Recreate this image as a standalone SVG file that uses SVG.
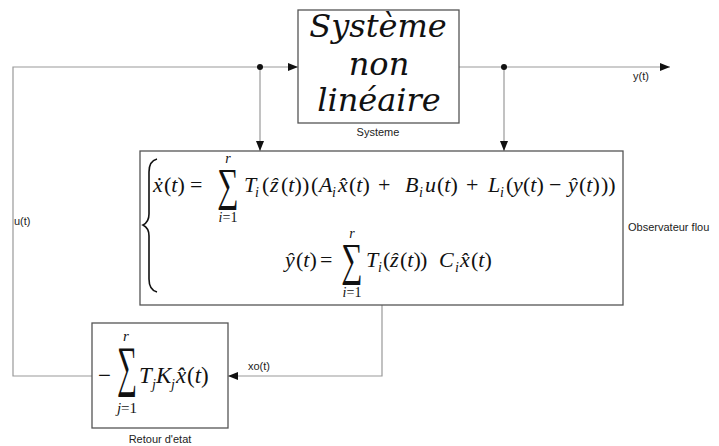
<svg xmlns="http://www.w3.org/2000/svg" width="719" height="446" viewBox="0 0 719 446">
<style>
.box{fill:#fff;stroke:#555;stroke-width:1.3}
.ln{fill:none;stroke:#999;stroke-width:1.2}
.lbl{font-family:"Liberation Sans",Arial,sans-serif;font-size:11px;fill:#222}
.m{font-family:"Liberation Serif","Times New Roman",serif;font-size:22px;fill:#111}
.f{font-size:23px}
.i{font-style:italic}
.s{font-size:14px}
.sys{font-family:"DejaVu Serif",serif;font-style:italic;font-size:32px;fill:#111;text-anchor:middle}
.sig{font-family:"Liberation Serif",serif;font-size:46px;fill:#111;text-anchor:middle}
.lim{font-family:"Liberation Serif",serif;font-size:14px;fill:#111;text-anchor:middle}
</style>
<defs>
<marker id="ar" markerUnits="userSpaceOnUse" markerWidth="10" markerHeight="8" refX="10" refY="4" orient="auto">
<path d="M0,0 L10,4 L0,8 z" fill="#111"/>
</marker>
</defs>
<g id="connectors">
<path class="ln" d="M92,376 H13 V67 H298" marker-end="url(#ar)"/>
<path class="ln" d="M260,67 V151" marker-end="url(#ar)"/>
<path class="ln" d="M459,67 H670" marker-end="url(#ar)"/>
<path class="ln" d="M504,67 V151" marker-end="url(#ar)"/>
<path class="ln" d="M382,305 V376 H228" marker-end="url(#ar)"/>
<circle cx="260" cy="67" r="3" fill="#111"/>
<circle cx="504" cy="67" r="3" fill="#111"/>
<text class="lbl" x="633" y="80">y(t)</text>
<text class="lbl" x="14" y="225">u(t)</text>
<text class="lbl" x="248" y="370">xo(t)</text>
</g>
<g id="systeme">
<rect class="box" x="298" y="10" width="161" height="113"/>
<text class="sys" x="378" y="37">Système</text>
<text class="sys" x="379" y="75">non</text>
<text class="sys" x="379" y="111">linéaire</text>
<text class="lbl" x="378" y="136" text-anchor="middle">Systeme</text>
</g>
<g id="observateur">
<rect class="box" x="140" y="151" width="483" height="154"/>
<path d="M157,159 Q149,161 149,172 L149,214 Q149,222 143,225 Q149,228 149,236 L149,279 Q149,290 157,292" fill="none" stroke="#111" stroke-width="1.6"/>
<text class="m" y="192"><tspan x="153" class="i">ẋ</tspan><tspan x="164">(</tspan><tspan class="i">t</tspan>)<tspan x="190">=</tspan><tspan x="244" class="i">T</tspan><tspan x="255" y="197" class="i s">i</tspan><tspan x="262" y="192">(</tspan><tspan x="270" class="i">ẑ</tspan><tspan x="281">(</tspan><tspan class="i">t</tspan>)<tspan x="302">)</tspan><tspan x="311">(</tspan><tspan x="319" class="i">A</tspan><tspan x="332" y="197" class="i s">i</tspan><tspan x="338" y="192" class="i">x̂</tspan><tspan x="349">(</tspan><tspan class="i">t</tspan>)<tspan x="378">+</tspan><tspan x="405" class="i">B</tspan><tspan x="419" y="197" class="i s">i</tspan><tspan x="425" y="192" class="i">u</tspan><tspan x="437">(</tspan><tspan class="i">t</tspan>)<tspan x="466">+</tspan><tspan x="488" class="i">L</tspan><tspan x="500" y="197" class="i s">i</tspan><tspan x="506" y="192">(</tspan><tspan x="513" class="i">y</tspan><tspan x="523">(</tspan><tspan class="i">t</tspan>)<tspan x="549">−</tspan><tspan x="568" class="i">ŷ</tspan><tspan x="579">(</tspan><tspan class="i">t</tspan>)<tspan x="601">))</tspan></text>
<text class="sig" transform="translate(228,200) scale(0.65,1)">∑</text>
<text class="lim i" x="228" y="163">r</text>
<text class="lim" x="228" y="222"><tspan class="i">i</tspan>=1</text>
<text class="m" y="267"><tspan x="285" class="i">ŷ</tspan><tspan x="296">(</tspan><tspan class="i">t</tspan>)<tspan x="320">=</tspan><tspan x="366" class="i">T</tspan><tspan x="378" y="272" class="i s">i</tspan><tspan x="383" y="267">(</tspan><tspan x="390" class="i">ẑ</tspan><tspan x="400">(</tspan><tspan class="i">t</tspan>)<tspan x="420">)</tspan><tspan x="439" class="i">C</tspan><tspan x="455" y="272" class="i s">i</tspan><tspan x="460" y="267" class="i">x̂</tspan><tspan x="471">(</tspan><tspan class="i">t</tspan>)</text>
<text class="sig" transform="translate(352,275) scale(0.65,1)">∑</text>
<text class="lim i" x="352" y="238">r</text>
<text class="lim" x="352" y="297"><tspan class="i">i</tspan>=1</text>
<text class="lbl" x="628" y="231">Observateur flou</text>
</g>
<g id="retour">
<rect class="box" x="92" y="323" width="136" height="105"/>
<text class="m f" y="383"><tspan x="98">−</tspan><tspan x="139" class="i">T</tspan><tspan x="152" y="389" class="i s">j</tspan><tspan x="156" y="383" class="i">K</tspan><tspan x="171" y="389" class="i s">j</tspan><tspan x="176" y="383" class="i">x̂</tspan><tspan x="187">(</tspan><tspan class="i">t</tspan>)</text>
<text class="sig" transform="translate(127,385) scale(0.5,1)" style="font-size:56px">∑</text>
<text class="lim i" x="126" y="341" style="font-size:15px">r</text>
<text class="lim" x="127" y="413" style="font-size:15px"><tspan class="i">j</tspan>=1</text>
<text class="lbl" x="160" y="443" text-anchor="middle">Retour d'etat</text>
</g>
</svg>
